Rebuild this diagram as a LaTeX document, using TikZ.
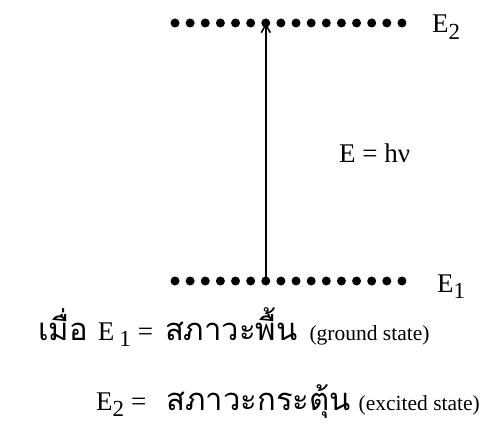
\documentclass[tikz,border=0pt]{standalone}
\usepackage{fontspec}
\setmainfont{Liberation Serif}
\newfontfamily\thaifont[Script=Thai]{Loma}
\usetikzlibrary{positioning,arrows.meta}
\newcommand{\lowsub}[1]{\raisebox{-0.25em}{\fontsize{23}{23}\selectfont #1}}
\newcommand{\smallnote}{\fontsize{21.5}{24}\selectfont}
\newcommand{\thaitext}[1]{{\thaifont\fontsize{31}{34}\selectfont #1}}

\begin{document}
\begin{tikzpicture}[x=1pt,y=-1pt,node distance=15.13pt,on grid,
                    level dot/.style={circle,fill=black,inner sep=0pt,minimum size=9pt},
                    label text/.style={inner sep=0pt,anchor=base west,font=\fontsize{27}{30}\selectfont}]
  \useasboundingbox (0,0) rectangle (487,428);

  % upper and lower levels
  \node[level dot] (u1) at (175,23)  {};
  \node[level dot] (l1) at (175,281) {};
  \foreach \i [remember=\i as \j (initially 1)] in {2,...,16} {
    \node[level dot] (u\i) [right=of u\j] {};
    \node[level dot] (l\i) [right=of l\j] {};
  }

  \node[label text] (e2)     at (432,33)  {E\lowsub{2}};
  \node[label text] (e1)     at (437,292) {E\lowsub{1}};
  \node[label text] (energy) at (339,162) {E = hν};

  \draw[-{Straight Barb[length=8pt,width=9pt]},line width=1.6pt] (l7.center) -- (u7.center);

  \node[label text] (ground) at (38,340)
    {\thaitext{เมื่อ}\hspace{10pt}E\hspace{5pt}\lowsub{1}\hspace{7pt}=\hspace{12pt}\thaitext{สภาวะพื้น}\hspace{12pt}{\smallnote (ground state)}};
  \node[label text] (excited) at (96,410)
    {E\lowsub{2}\hspace{7pt}=\hspace{20pt}\thaitext{สภาวะกระตุ้น}\hspace{8pt}{\smallnote (excited state)}};
\end{tikzpicture}
\end{document}
